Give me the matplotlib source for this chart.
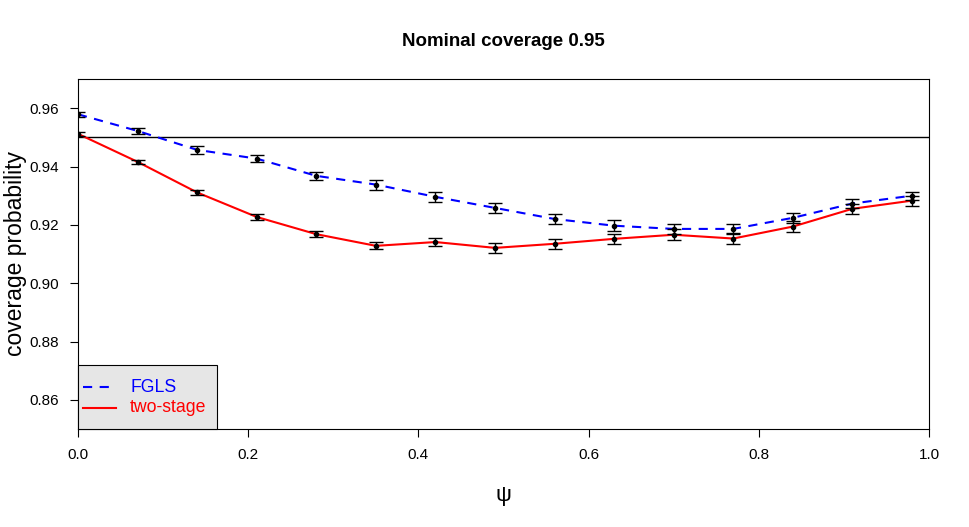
import matplotlib
matplotlib.use("Agg")
import matplotlib.pyplot as plt
from matplotlib.lines import Line2D
from matplotlib.patches import Rectangle

plt.rcParams['font.family'] = ['Liberation Sans', 'DejaVu Sans']

psi = [0.0, 0.07, 0.14, 0.21, 0.28, 0.35, 0.42, 0.49, 0.56, 0.63, 0.70, 0.77, 0.84, 0.91, 0.98]
fgls = [0.9579, 0.9522, 0.9457, 0.9427, 0.9368, 0.9338, 0.9296, 0.9258, 0.9220, 0.9197, 0.9186, 0.9186, 0.9224, 0.9273, 0.9300]
fgls_err = [0.0008, 0.0010, 0.0013, 0.0013, 0.0014, 0.0017, 0.0017, 0.0016, 0.0017, 0.0018, 0.0018, 0.0017, 0.0017, 0.0015, 0.0014]
two = [0.9512, 0.9416, 0.9311, 0.9227, 0.9168, 0.9128, 0.9141, 0.9121, 0.9135, 0.9152, 0.9166, 0.9153, 0.9194, 0.9255, 0.9283]
two_err = [0.0006, 0.0006, 0.0009, 0.0009, 0.0010, 0.0012, 0.0014, 0.0016, 0.0017, 0.0017, 0.0019, 0.0019, 0.0019, 0.0017, 0.0017]
series_names = ['FGLS', 'two-stage']
series_colors = ['#0000FF', '#FF0000']

W, H = 969, 527
fig = plt.figure(figsize=(W/100, H/100), dpi=100)
ax = fig.add_axes([78/W, (H-429)/H, (929-78)/W, (429-79)/H])

dash = (0, (4.4, 3.6))
ax.axhline(0.95, color='black', lw=1.0, zorder=1)
ax.plot(psi, fgls, color=series_colors[0], lw=1.5, ls=dash, zorder=2)
ax.plot(psi, two, color=series_colors[1], lw=1.5, zorder=2)
for y, e in [(fgls, fgls_err), (two, two_err)]:
    ax.errorbar(psi, y, yerr=e, fmt='o', color='black', ms=3, ecolor='black',
                elinewidth=1.0, capsize=4.8, capthick=1.0, zorder=3)

ax.set_xlim(0, 1)
ax.set_ylim(0.85, 0.97)
ax.set_xticks([0.0, 0.2, 0.4, 0.6, 0.8, 1.0])
ax.set_xticklabels(['0.0', '0.2', '0.4', '0.6', '0.8', '1.0'])
ax.set_yticks([0.86, 0.88, 0.90, 0.92, 0.94, 0.96])
ax.set_yticklabels(['0.86', '0.88', '0.90', '0.92', '0.94', '0.96'])
ax.tick_params(labelsize=11, length=5.5, width=0.8, pad=8.5)
for s in ax.spines.values():
    s.set_linewidth(0.8)

ax.set_ylabel('coverage probability', fontsize=16.5)
ax.yaxis.set_label_coords((27-78)/851, 0.5)
fig.text((78+929)/2/W, 1-496/H, 'ψ', ha='center', va='center', fontsize=16)
fig.text((78+929)/2/W, 1-41/H, 'Nominal coverage 0.95', ha='center', va='center',
         fontsize=13.5, fontweight='bold')

# legend box (drawn in pixel coordinates)
def px(x, y):
    return (x/W, 1-y/H)

bx0, by0 = px(78, 429)
bx1, by1 = px(217, 365)
fig.add_artist(Rectangle((bx0, by0), bx1-bx0, by1-by0, transform=fig.transFigure,
                         facecolor='#e6e6e6', edgecolor='black', lw=0.8, zorder=5))
styles = [dash, '-']
for i, (name, col, st) in enumerate(zip(series_names, series_colors, styles)):
    yy = 387 + i*21
    (lx0, ly), (lx1, _) = px(83, yy), px(116, yy)
    fig.add_artist(Line2D([lx0, lx1], [ly, ly], transform=fig.transFigure,
                          color=col, lw=1.5, ls=st, zorder=6))
    tx, ty = px(130, yy)
    fig.text(tx, ty, name, color=col, fontsize=12.7, ha='left', va='center', zorder=6)

fig.savefig('out.png', dpi=100)
